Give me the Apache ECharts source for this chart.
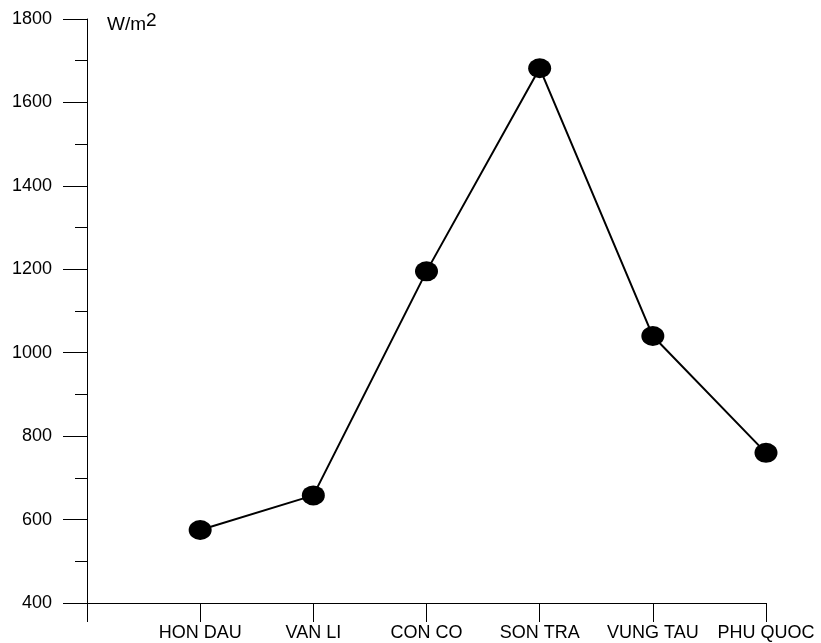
<!DOCTYPE html>
<html>
<head>
<meta charset="utf-8">
<script src="https://cdn.jsdelivr.net/npm/echarts@6/dist/echarts.min.js"></script>
<style>html,body{margin:0;padding:0;background:#fff}#c{width:821px;height:643px}</style>
</head>
<body>
<div id="c"></div>
<script>
var categories = ['', 'HON DAU', 'VAN LI', 'CON CO', 'SON TRA', 'VUNG TAU', 'PHU QUOC'];
var values = [null, 575, 658, 1195, 1682, 1040, 760];
var yTicks = {min: 400, max: 1800, interval: 200};
var unitLabel = 'W/m';

var chart = echarts.init(document.getElementById('c'));
chart.setOption({
  animation: false,
  backgroundColor: '#fff',
  grid: {left: 87, right: 55, top: 19, bottom: 40, containLabel: false},
  xAxis: {
    type: 'category',
    data: categories,
    boundaryGap: false,
    axisLine: {show: true, lineStyle: {color: '#000', width: 1}},
    axisTick: {show: true, length: 19, alignWithLabel: true, lineStyle: {color: '#000', width: 1}},
    axisLabel: {show: true, interval: 0, margin: 21, color: '#000', fontFamily: 'Liberation Sans, Arial', fontSize: 18},
    splitLine: {show: false}
  },
  yAxis: {
    type: 'value',
    min: yTicks.min, max: yTicks.max, interval: yTicks.interval,
    axisLine: {show: true, lineStyle: {color: '#000', width: 1}},
    axisTick: {show: true, length: 24, lineStyle: {color: '#000', width: 1}},
    minorTick: {show: true, splitNumber: 2, length: 12, lineStyle: {color: '#000', width: 1}},
    axisLabel: {margin: 35, color: '#000', fontFamily: 'Liberation Sans, Arial', fontSize: 18,
      formatter: function (v) { return String(v); }},
    splitLine: {show: false}
  },
  graphic: [{
    type: 'text', left: 107, top: 11,
    style: {
      text: '{a|' + unitLabel + '}{b|2}',
      rich: {
        a: {fontFamily: 'Liberation Sans, Arial', fontSize: 19, fill: '#000', verticalAlign: 'bottom'},
        b: {fontFamily: 'Liberation Sans, Arial', fontSize: 19, fill: '#000', verticalAlign: 'bottom', padding: [0,0,4,0]}
      }
    }
  }],
  series: [{
    type: 'line',
    data: values,
    connectNulls: false,
    symbol: 'circle',
    symbolSize: [23, 20],
    showAllSymbol: true,
    lineStyle: {color: '#000', width: 2},
    itemStyle: {color: '#000'}
  }]
});
</script>
</body>
</html>
